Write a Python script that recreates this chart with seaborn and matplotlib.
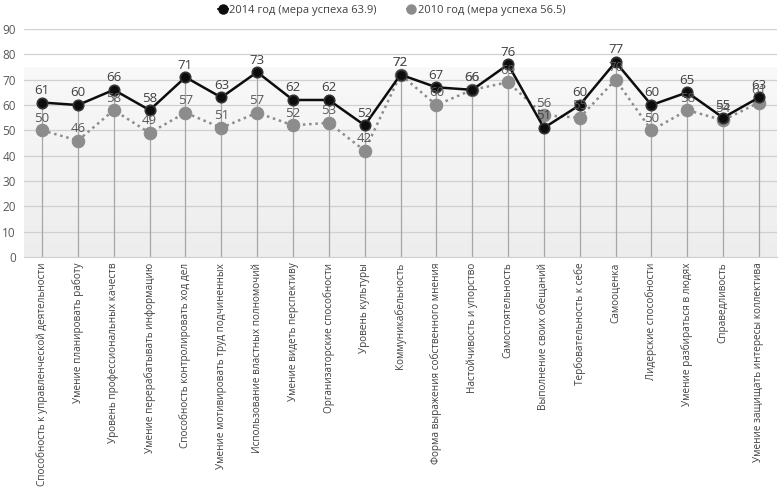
import numpy as np
import pandas as pd
import matplotlib
matplotlib.use("Agg")
import matplotlib.pyplot as plt
import seaborn as sns
from matplotlib.lines import Line2D

categories = [
    "Способность к управленческой деятельности",
    "Умение планировать работу",
    "Уровень профессиональных качеств",
    "Умение перерабатывать информацию",
    "Способность контролировать ход дел",
    "Умение мотивировать труд подчиненных",
    "Использование властных полномочий",
    "Умение видеть перспективу",
    "Организаторские способности",
    "Уровень культуры",
    "Коммуникабельность",
    "Форма выражения собственного мнения",
    "Настойчивость и упорство",
    "Самостоятельность",
    "Выполнение своих обещаний",
    "Тербовательность к себе",
    "Самооценка",
    "Лидерские способности",
    "Умение разбираться в людях",
    "Справедливость",
    "Умение защищать интересы коллектива",
]
values_2014 = [61, 60, 66, 58, 71, 63, 73, 62, 62, 52, 72, 67, 66, 76, 51, 60, 77, 60, 65, 55, 63]
values_2010 = [50, 46, 58, 49, 57, 51, 57, 52, 53, 42, 72, 60, 66, 69, 56, 55, 70, 50, 58, 54, 61]
label_2014 = "2014 год (мера успеха 63.9)"
label_2010 = "2010 год (мера успеха 56.5)"
yticks = [0, 10, 20, 30, 40, 50, 60, 70, 80, 90]

sns.set_theme(style="white")
plt.rcParams['font.family'] = ['Open Sans', 'DejaVu Sans']

df = pd.DataFrame({"pos": np.arange(len(categories)), "cat": categories,
                   "v2014": values_2014, "v2010": values_2010})

fig = plt.figure(figsize=(7.8, 4.88), dpi=100)
ax = fig.add_axes([0.031, 0.473, 0.965, 0.4676])
n = len(categories)
ax.set_xlim(-0.5, n - 0.5)
ax.set_ylim(0, 90)

# background gradient
grad = np.linspace(0, 1, 256).reshape(-1, 1)
cols = np.where(grad < 0.83, 0.93 + 0.045 * grad / 0.83, 1.0)
img = np.dstack([cols, cols, cols])
ax.imshow(img, extent=[-0.5, n - 0.5, 0, 90], origin='lower', aspect='auto', zorder=0)

for yv in yticks[1:]:
    ax.axhline(yv, color='#d0d0d0', lw=0.9, zorder=1)

ax.vlines(df["pos"], 0, np.maximum(df["v2014"], df["v2010"]), color='#a6a6a6', lw=0.9, zorder=1)

sns.lineplot(data=df, x="pos", y="v2010", ax=ax, color='#8c8c8c', lw=1.8,
             linestyle=(0, (1, 1.5)), marker='o', markersize=9,
             markeredgecolor='#8c8c8c', zorder=3)
sns.lineplot(data=df, x="pos", y="v2014", ax=ax, color='#0d0d0d', lw=1.8,
             marker='o', markersize=7.5, markeredgecolor='#333333', markerfacecolor='#0d0d0d',
             markeredgewidth=1.2, zorder=4)

for x, v in zip(df["pos"], df["v2014"]):
    ax.annotate(str(v), (x, v), xytext=(0, 4), textcoords='offset points',
                ha='center', va='bottom', fontsize=9.5, color='#404040', zorder=5)
for x, v in zip(df["pos"], df["v2010"]):
    ax.annotate(str(v), (x, v), xytext=(0, 4), textcoords='offset points',
                ha='center', va='bottom', fontsize=9.5, color='#595959', zorder=5)

ax.set_xticks(df["pos"])
ax.set_xticklabels(categories, rotation=90, fontsize=7.2, color='#404040')
ax.set_yticks(yticks)
ax.set_yticklabels([str(t) for t in yticks], fontsize=8.5, color='#595959')
ax.tick_params(axis='both', length=0, pad=4)
ax.tick_params(axis='y', pad=6)
ax.set_xlabel("")
ax.set_ylabel("")
for s in ['top', 'right', 'left']:
    ax.spines[s].set_visible(False)
ax.spines['bottom'].set_color('#d0d0d0')
ax.spines['bottom'].set_linewidth(0.9)

handles = [
    Line2D([], [], color='#0d0d0d', marker='o', markersize=6.5, lw=1.5),
    Line2D([], [], color='#8c8c8c', marker='o', markersize=6.5, lw=1.5, linestyle=':'),
]
fig.legend(handles, [label_2014, label_2010], loc='center', bbox_to_anchor=(0.502, 0.978),
           ncol=2, frameon=False, fontsize=8, handlelength=0.9, handletextpad=0.1,
           columnspacing=2.7, labelcolor='#404040')

fig.savefig("out.png", dpi=100)
